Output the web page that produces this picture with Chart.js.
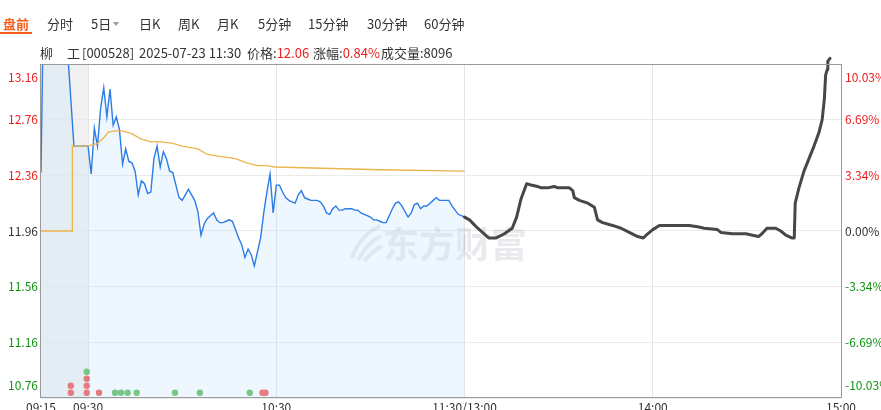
<!DOCTYPE html>
<html><head><meta charset="utf-8">
<script src="https://cdn.jsdelivr.net/npm/chart.js@4.4.1/dist/chart.umd.min.js"></script>
<style>
html,body{margin:0;padding:0;background:#fff;width:881px;height:410px;overflow:hidden;font-family:"Noto Sans CJK SC","Noto Sans",sans-serif;}
#wrap{position:relative;width:881px;height:410px;}
#c{position:absolute;left:0;top:0;}
.t{position:absolute;font-size:13px;color:#333;white-space:pre;line-height:16px;}
.red{color:#f01c1c;}
.tab0{color:#f2601e;font-weight:bold;}
#bar{position:absolute;left:0;top:32px;width:32px;height:2px;background:#f2601e;}
#tri{position:absolute;left:113px;top:22px;width:0;height:0;border-left:3.5px solid transparent;border-right:3.5px solid transparent;border-top:4px solid #9a9a9a;}
</style></head>
<body><div id="wrap">
<canvas id="c" width="881" height="410"></canvas>
<span class="t tab0" style="left:3px;top:16px">盘前</span>
<div id="bar"></div>
<span class="t" style="left:47px;top:16px">分时</span>
<span class="t" style="left:91px;top:16px">5日</span><div id="tri"></div>
<span class="t" style="left:139px;top:16px">日K</span>
<span class="t" style="left:178px;top:16px">周K</span>
<span class="t" style="left:217px;top:16px">月K</span>
<span class="t" style="left:258px;top:16px">5分钟</span>
<span class="t" style="left:308px;top:16px">15分钟</span>
<span class="t" style="left:367px;top:16px">30分钟</span>
<span class="t" style="left:424px;top:16px">60分钟</span>
<span class="t" style="left:40px;top:45px">柳</span>
<span class="t" style="left:67px;top:45px">工</span>
<span class="t" style="left:82px;top:45px">[000528]</span>
<span class="t" style="left:139px;top:45px">2025-07-23 11:30</span>
<span class="t" style="left:247px;top:45px">价格:<span class="red">12.06</span></span>
<span class="t" style="left:313px;top:45px">涨幅:<span class="red">0.84%</span></span>
<span class="t" style="left:381px;top:45px">成交量:8096</span>
</div>
<script>
// ---------- data ----------
const prevClose = 11.96;
const yTicks = [10.76, 11.16, 11.56, 11.96, 12.36, 12.76, 13.16];
const xTickTimes = ['09:15', '09:30', '10:30', '11:30', '14:00', '15:00'];
const xTickLabels = ['09:15', '09:30', '10:30', '11:30/13:00', '14:00', '15:00'];

// call auction (pre-market)
const preMarketTimes = ['09:15', '09:15:30', '09:23:45', '09:25:30', '09:29'];
const preMarketPrices = [12.38, 13.16, 13.16, 12.57, 12.57];

// continuous session, one value per minute 09:30 .. 11:30
const sessionStart = '09:30';
const sessionPrices = [
  12.57, 12.37, 12.70, 12.57, 12.84, 12.99, 12.78, 12.98, 12.72, 12.78,
  12.69, 12.44, 12.55, 12.46, 12.45, 12.39, 12.22, 12.32, 12.30, 12.23,
  12.24, 12.48, 12.57, 12.42, 12.53, 12.48, 12.39, 12.38, 12.29, 12.20,
  12.18, 12.22, 12.26, 12.22, 12.18, 12.10, 11.93, 12.01, 12.05, 12.07,
  12.09, 12.04, 12.02, 12.02, 12.03, 12.04, 12.03, 11.97, 11.91, 11.86,
  11.77, 11.83, 11.79, 11.71, 11.81, 11.91, 12.09, 12.24, 12.37, 12.09,
  12.29, 12.29, 12.24, 12.20, 12.18, 12.17, 12.16, 12.22, 12.25, 12.20,
  12.19, 12.18, 12.18, 12.18, 12.17, 12.14, 12.09, 12.08, 12.12, 12.14,
  12.11, 12.11, 12.12, 12.12, 12.12, 12.11, 12.11, 12.09, 12.08, 12.07,
  12.06, 12.04, 12.04, 12.03, 12.02, 12.02, 12.07, 12.12, 12.16, 12.17,
  12.14, 12.10, 12.06, 12.09, 12.15, 12.16, 12.12, 12.14, 12.14, 12.16,
  12.18, 12.20, 12.18, 12.18, 12.18, 12.18, 12.14, 12.11, 12.08, 12.07,
  12.06
];

// average price line
const avgTimes = ['09:15', '09:25', '09:25', '09:30', '09:33', '09:35', '09:36:30', '09:38:36',
  '09:40:42', '09:43:54', '09:47', '09:50', '09:53:30', '09:57', '10:00', '10:05', '10:08',
  '10:11', '10:17', '10:20:30', '10:24', '10:27', '10:29:30', '11:03', '11:30'];
const avgPrices = [11.96, 11.96, 12.57, 12.57, 12.59, 12.63, 12.67, 12.68,
  12.68, 12.66, 12.62, 12.60, 12.60, 12.59, 12.57, 12.55, 12.51,
  12.50, 12.48, 12.45, 12.43, 12.43, 12.42, 12.40, 12.39];

// hand-drawn afternoon path
const drawTimes = ['13:00', '13:01:35', '13:04:12', '13:07:42', '13:10:06', '13:12:42', '13:15:12',
  '13:16:36', '13:18:00', '13:19:48', '13:21:12', '13:23:18', '13:24:24', '13:26:30', '13:28:36',
  '13:29:42', '13:33:24', '13:34:30', '13:35:00', '13:36:36', '13:39:18', '13:41:24', '13:42:24',
  '13:44:00', '13:47:12', '13:49:54', '13:52:30', '13:55:12', '13:57:00', '13:58:24', '14:00:00',
  '14:02:06', '14:06:18', '14:11:36', '14:14:18', '14:16:24', '14:20:36', '14:21:42', '14:25:24',
  '14:29:42', '14:31:48', '14:33:42', '14:34:48', '14:36:24', '14:39:12', '14:40:48', '14:42:24',
  '14:44:18', '14:45:06', '14:45:24', '14:46:36', '14:48:12', '14:49:48', '14:51:24', '14:53:00',
  '14:54:00', '14:54:42', '14:55:06', '14:55:36', '14:55:48', '14:56:30'];
const drawPrices = [12.06, 12.04, 11.98, 11.91, 11.91, 11.94, 11.98,
  12.06, 12.19, 12.30, 12.29, 12.28, 12.27, 12.27, 12.28,
  12.27, 12.27, 12.25, 12.20, 12.18, 12.16, 12.13, 12.04,
  12.02, 12.00, 11.98, 11.95, 11.92, 11.91, 11.94, 11.97,
  12.00, 12.00, 12.00, 11.99, 11.98, 11.97, 11.95, 11.94,
  11.94, 11.93, 11.92, 11.94, 11.98, 11.98, 11.96, 11.93,
  11.91, 11.91, 12.16, 12.27, 12.39, 12.48, 12.57, 12.67,
  12.76, 12.91, 13.08, 13.12, 13.18, 13.20];

// trade signal dots (stack level at each time, side)
const signalTimes = ['09:24:30', '09:24:30', '09:29:35', '09:29:35', '09:29:35', '09:29:35', '09:33:30',
  '09:38:36', '09:40:30', '09:42:36', '09:45:30', '09:57:42', '10:05:39', '10:21:33', '10:25:36', '10:26:33'];
const signalLevels = [0, 1, 0, 1, 2, 3, 0, 0, 0, 0, 0, 0, 0, 0, 0, 0];
const signalSides = ['buy', 'buy', 'buy', 'buy', 'buy', 'sell', 'buy',
  'sell', 'sell', 'sell', 'sell', 'sell', 'sell', 'sell', 'buy', 'buy'];

// ---------- helpers ----------
function tpos(t) {
  const p = t.split(':').map(Number);
  const mins = p[0] * 60 + p[1] + (p[2] || 0) / 60;
  return mins <= 11 * 60 + 30 ? mins - (9 * 60 + 15) : 135 + (mins - 13 * 60);
}
function minuteLabel(start, k) {
  const p = start.split(':').map(Number);
  const m = p[0] * 60 + p[1] + k;
  return String(Math.floor(m / 60)).padStart(2, '0') + ':' + String(m % 60).padStart(2, '0');
}
const sessionTimes = sessionPrices.map((_, k) => minuteLabel(sessionStart, k));
const priceTimes = preMarketTimes.concat(sessionTimes);
const priceValues = preMarketPrices.concat(sessionPrices);
const pts = (times, vals) => times.map((t, i) => ({ x: tpos(t), y: vals[i] }));

const RED = '#f01c1c', GREEN = '#129312', DARK = '#333333';

const decor = {
  id: 'decor',
  beforeDraw(chart) {
    const { ctx, chartArea: a, scales } = chart;
    const x0 = scales.x.getPixelForValue(tpos('09:15'));
    const x1 = scales.x.getPixelForValue(tpos('09:30'));
    ctx.save();
    ctx.fillStyle = '#f1f1f1';
    ctx.fillRect(x0, a.top, x1 - x0, a.bottom - a.top);
    ctx.restore();
  },
  beforeDatasetsDraw(chart) {
    const { ctx } = chart;
    ctx.save();
    // watermark
    ctx.fillStyle = 'rgba(120,130,150,0.17)';
    ctx.font = 'bold 36px "Noto Sans CJK SC"';
    ctx.textAlign = 'left';
    ctx.textBaseline = 'middle';
    ctx.fillText('东方财富', 383, 244);
    ctx.strokeStyle = 'rgba(120,130,150,0.17)';
    ctx.lineWidth = 4;
    ctx.beginPath();
    ctx.moveTo(352, 258); ctx.quadraticCurveTo(360, 235, 380, 226); ctx.stroke();
    ctx.beginPath();
    ctx.moveTo(358, 260); ctx.quadraticCurveTo(368, 242, 381, 236); ctx.stroke();
    ctx.beginPath();
    ctx.moveTo(364, 261); ctx.quadraticCurveTo(374, 250, 382, 246); ctx.stroke();
    ctx.restore();
  },
  afterDraw(chart) {
    const { ctx, chartArea: a, scales } = chart;
    ctx.save();
    // frame
    ctx.strokeStyle = '#9a9a9a';
    ctx.lineWidth = 1;
    ctx.strokeRect(a.left - 0.5, a.top + 0.5, a.right - a.left + 1, a.bottom - a.top - 1);
    // y labels
    ctx.font = '12px "Noto Sans CJK SC"';
    ctx.textBaseline = 'middle';
    yTicks.forEach((v, i) => {
      let py = scales.y.getPixelForValue(v);
      if (i === yTicks.length - 1) py += 13;
      if (i === 0) py -= 13;
      ctx.fillStyle = v > prevClose + 1e-9 ? RED : (v < prevClose - 1e-9 ? GREEN : DARK);
      ctx.textAlign = 'right';
      ctx.fillText(v.toFixed(2), a.left - 3, py);
      const pct = ((v - prevClose) / prevClose * 100).toFixed(2) + '%';
      ctx.textAlign = 'left';
      ctx.fillText(pct, a.right + 4, py);
    });
    // x labels
    ctx.fillStyle = DARK;
    ctx.textAlign = 'center';
    xTickTimes.forEach((t, i) => {
      const px = scales.x.getPixelForValue(tpos(t));
      ctx.fillText(xTickLabels[i], px, a.bottom + 9);
    });
    ctx.restore();
  }
};

new Chart(document.getElementById('c'), {
  type: 'line',
  data: {
    datasets: [
      {
        label: '价格', data: pts(priceTimes, priceValues), borderColor: '#2c7ce6', borderWidth: 1.4,
        pointRadius: 0, fill: 'start', backgroundColor: 'rgba(191,225,248,0.27)', tension: 0, order: 3
      },
      {
        label: '均价', data: pts(avgTimes, avgPrices), borderColor: '#ebb44f', borderWidth: 1.3,
        pointRadius: 0, fill: false, tension: 0, order: 2
      },
      {
        label: '画线', data: pts(drawTimes, drawPrices), borderColor: '#474747', borderWidth: 3,
        pointRadius: 0, fill: false, tension: 0, clip: false, borderJoinStyle: 'round', borderCapStyle: 'round', order: 1
      },
      {
        type: 'scatter', label: '信号', yAxisID: 'yDots',
        data: signalTimes.map((t, i) => ({ x: tpos(t), y: signalLevels[i] })),
        backgroundColor: signalSides.map(s => s === 'buy' ? 'rgb(243,86,86)' : 'rgb(92,188,92)'),
        pointRadius: 3.2, borderWidth: 0, order: 4
      }
    ]
  },
  options: {
    responsive: false, animation: false, events: [],
    layout: { padding: { top: 64, right: 40, left: 0, bottom: 0 } },
    plugins: { legend: { display: false }, tooltip: { enabled: false } },
    scales: {
      x: {
        type: 'linear', min: 0, max: 255,
        afterBuildTicks: s => { s.ticks = xTickTimes.map(t => ({ value: tpos(t) })); },
        ticks: { display: false },
        grid: { drawTicks: false, color: c => (c.index === 0 || c.index === xTickTimes.length - 1) ? 'rgba(0,0,0,0)' : '#e4e4e4' },
        border: { display: false },
        afterFit: s => { s.height = 12; }
      },
      y: {
        position: 'left', min: yTicks[0], max: yTicks[yTicks.length - 1],
        afterBuildTicks: s => { s.ticks = yTicks.map(v => ({ value: v })); },
        ticks: { display: false },
        grid: { drawTicks: false, color: '#ebebeb' },
        border: { display: false },
        afterFit: s => { s.width = 41; }
      },
      yDots: { display: false, min: -0.757, max: 46.96 }
    }
  },
  plugins: [decor]
});
</script>
</body></html>
